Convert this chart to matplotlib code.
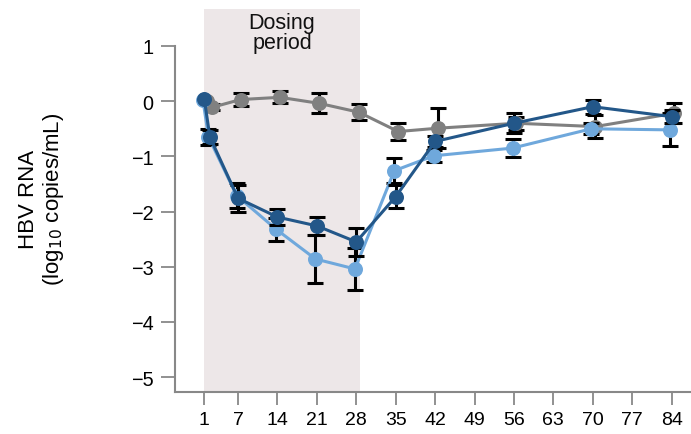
import matplotlib
matplotlib.use("Agg")
import matplotlib.pyplot as plt
from matplotlib.patches import Rectangle

plt.rcParams['font.family'] = ['Liberation Sans', 'DejaVu Sans']
plt.rcParams['axes.unicode_minus'] = True

# Study days and change from baseline in HBV RNA (log10 copies/mL)
days = [1, 2, 7, 14, 21, 28, 35, 42, 56, 70, 84]
tick_days = [1, 7, 14, 21, 28, 35, 42, 49, 56, 63, 70, 77, 84]
y_ticks = [1, 0, -1, -2, -3, -4, -5]

placebo_mean = [0.00, -0.11, 0.03, 0.07, -0.04, -0.20, -0.55, -0.49, -0.40, -0.46, -0.22]
placebo_err = [0.00, 0.05, 0.12, 0.11, 0.18, 0.15, 0.16, 0.36, 0.12, 0.21, 0.18]

low_dose_mean = [0.04, -0.65, -1.76, -2.10, -2.26, -2.55, -1.73, -0.73, -0.40, -0.10, -0.28]
low_dose_err = [0.00, 0.12, 0.25, 0.14, 0.17, 0.26, 0.21, 0.10, 0.18, 0.13, 0.12]

high_dose_mean = [0.03, -0.65, -1.71, -2.32, -2.86, -3.04, -1.26, -0.99, -0.85, -0.50, -0.52]
high_dose_err = [0.00, 0.15, 0.22, 0.21, 0.44, 0.38, 0.23, 0.11, 0.17, 0.10, 0.30]

dosing_start, dosing_end = 1, 28.6

fig = plt.figure(figsize=(6.91, 4.35), dpi=100)
ax = fig.add_axes([175 / 691, (435 - 393) / 435, (691 - 175) / 691, (393 - 47) / 435])
ax.set_xlim(-4.2, 87.45)
ax.set_ylim(-5.27, 1.0)

# Shaded dosing window, extended above the plotting area to hold its label
y_top = 1.0 + (47 - 10) / 55.17
ax.add_patch(Rectangle((dosing_start, -5.27), dosing_end - dosing_start, y_top + 5.27,
                       facecolor='#EDE7E8', edgecolor='none', clip_on=False, zorder=0))
ax.text((dosing_start + dosing_end) / 2, y_top - 0.06, 'Dosing\nperiod',
        ha='center', va='top', fontsize=15.5, linespacing=0.92, color='#111111')

series = [
    (placebo_mean, placebo_err, '#808080', 0.45, 3),
    (high_dose_mean, high_dose_err, '#6FA8DC', -0.25, 4),
    (low_dose_mean, low_dose_err, '#235789', 0.0, 5),
]
for mean, err, color, shift, z in series:
    x = [d + shift for d in days]
    keep = [i for i, e in enumerate(err) if e > 0]
    ax.errorbar([x[i] for i in keep], [mean[i] for i in keep],
                yerr=[err[i] for i in keep], fmt='none', ecolor='black',
                elinewidth=2.2, capsize=5.5, capthick=2.2, zorder=z - 0.5)
    ax.plot(x, mean, color=color, lw=2.2, marker='o', markersize=10.8,
            markeredgewidth=0, zorder=z)

for side in ('top', 'right'):
    ax.spines[side].set_visible(False)
for side in ('left', 'bottom'):
    ax.spines[side].set_color('#888888')
    ax.spines[side].set_linewidth(1.5)

ax.set_yticks(y_ticks)
ax.set_yticklabels([f'{v:d}'.replace('-', '\u2212') for v in y_ticks])
ax.set_xticks(tick_days)
ax.set_xticklabels([str(d) for d in tick_days])
ax.tick_params(axis='y', length=10, width=1.3, color='#888888', pad=5.5, labelsize=14.3)
ax.tick_params(axis='x', length=9.5, width=1.3, color='#888888', pad=4.5, labelsize=14)

fig.text(42 / 691, 1 - 199 / 435, 'HBV RNA\n(log$_{10}$ copies/mL)', rotation=90,
         ha='center', va='center', fontsize=16, linespacing=1.1, multialignment='center')

fig.savefig('out.png', dpi=100)
